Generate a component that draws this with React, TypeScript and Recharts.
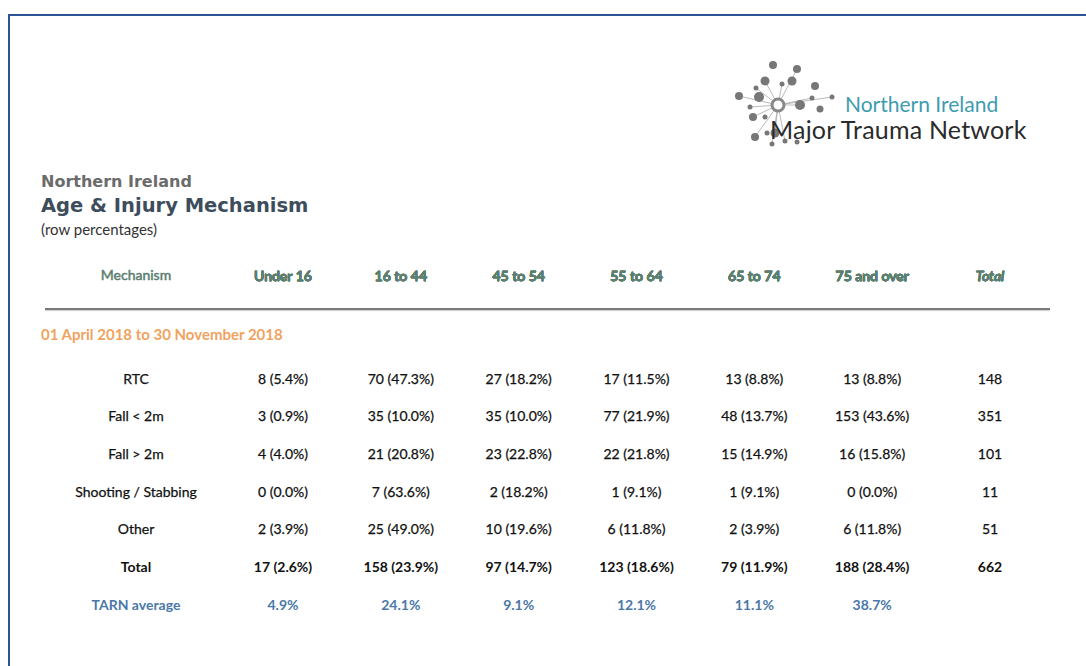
import React from 'react';
import { ScatterChart, Scatter, XAxis, YAxis } from 'recharts';

// table content
const ageGroups = ['Under 16', '16 to 44', '45 to 54', '55 to 64', '65 to 74', '75 and over'];
const mechanisms = ['RTC', 'Fall < 2m', 'Fall > 2m', 'Shooting / Stabbing', 'Other'];

const rtcCounts = [8, 70, 27, 17, 13, 13];
const rtcPct = [5.4, 47.3, 18.2, 11.5, 8.8, 8.8];
const fallUnderCounts = [3, 35, 35, 77, 48, 153];
const fallUnderPct = [0.9, 10.0, 10.0, 21.9, 13.7, 43.6];
const fallOverCounts = [4, 21, 23, 22, 15, 16];
const fallOverPct = [4.0, 20.8, 22.8, 21.8, 14.9, 15.8];
const shootingCounts = [0, 7, 2, 1, 1, 0];
const shootingPct = [0.0, 63.6, 18.2, 9.1, 9.1, 0.0];
const otherCounts = [2, 25, 10, 6, 2, 6];
const otherPct = [3.9, 49.0, 19.6, 11.8, 3.9, 11.8];
const rowTotals = [148, 351, 101, 11, 51];

const totalCounts = [17, 158, 97, 123, 79, 188];
const totalPct = [2.6, 23.9, 14.7, 18.6, 11.9, 28.4];
const grandTotal = 662;
const tarnAverage = [4.9, 24.1, 9.1, 12.1, 11.1, 38.7];

const mechCounts = [rtcCounts, fallUnderCounts, fallOverCounts, shootingCounts, otherCounts];
const mechPct = [rtcPct, fallUnderPct, fallOverPct, shootingPct, otherPct];

const cellLabel = (n: number, p: number) => `${n} (${p.toFixed(1)}%)`;

const bodyCells = mechanisms.flatMap((m, i) => [
  ...ageGroups.map((a, j) => ({ col: a, row: m, label: cellLabel(mechCounts[i][j], mechPct[i][j]) })),
  { col: 'Total', row: m, label: String(rowTotals[i]) },
]);
const totalCells = [
  ...ageGroups.map((a, j) => ({ col: a, row: 'Total', label: cellLabel(totalCounts[j], totalPct[j]) })),
  { col: 'Total', row: 'Total', label: String(grandTotal) },
];
const tarnCells = ageGroups.map((a, j) => ({ col: a, row: 'TARN average', label: `${tarnAverage[j].toFixed(1)}%` }));

// logo dots [x, y, r]
const logoDots = [
  [53, 15, 4], [77, 19, 4], [45, 31, 4.5], [72, 31, 4.5], [36, 38, 2.5], [62, 34, 2.5],
  [95, 36, 4], [112, 47, 2.5], [19, 46, 4], [39, 47, 5], [80, 55, 5], [92, 48, 2.5],
  [100, 59, 3.5], [30, 57, 2.5], [33, 67, 4], [45, 67, 2.5], [55, 83, 4.5], [35, 87, 4],
  [47, 83, 2.5], [52, 94, 2.5], [65, 91, 2.5], [77, 92, 2.5],
];
const hub = [58, 55];

const FONT = 'Lato, "Open Sans", sans-serif';
const TITLE_FONT = '"DejaVu Sans", Verdana, sans-serif';
const FS = 14;
const HEADER_Y = 275;
const MECH_X = 136;
const HEADER_COLOR = '#5b8070';
const TEXT_COLOR = '#111';
const TARN_COLOR = '#4a78a8';

const makeShape = (color: string, weight: number) => (props: any) => (
  <text
    x={props.cx}
    y={props.cy}
    textAnchor="middle"
    dominantBaseline="central"
    fontFamily={FONT}
    fontSize={FS}
    fontWeight={weight}
    fill={color}
    stroke={weight < 700 ? color : 'none'}
    strokeWidth={0.25}
  >
    {props.payload.label}
  </text>
);

const HeaderTick = (props: any) => (
  <text
    x={props.x}
    y={HEADER_Y}
    textAnchor="middle"
    dominantBaseline="central"
    fontFamily={FONT}
    fontSize={FS}
    fontWeight={400}
    fontStyle={props.payload.value === 'Total' ? 'italic' : 'normal'}
    fill={HEADER_COLOR}
    stroke={HEADER_COLOR}
    strokeWidth={0.5}
  >
    {props.payload.value}
  </text>
);

const RowTick = (props: any) => {
  const v = props.payload.value;
  const isTarn = v === 'TARN average';
  const bold = v === 'Total' || isTarn;
  const color = isTarn ? TARN_COLOR : TEXT_COLOR;
  return (
    <text
      x={MECH_X}
      y={props.y}
      textAnchor="middle"
      dominantBaseline="central"
      fontFamily={FONT}
      fontSize={FS}
      fontWeight={bold ? 700 : 400}
      fill={color}
      stroke={bold ? 'none' : color}
      strokeWidth={0.25}
    >
      {v}
    </text>
  );
};

export default function App() {
  return (
    <div style={{ position: 'relative', width: 1086, height: 666, background: '#fff', overflow: 'hidden' }}>
      <style>{'body{margin:0}'}</style>
      <div
        style={{
          position: 'absolute', left: 8, top: 14, right: -4, bottom: -4,
          borderTop: '2px solid #2f5496', borderLeft: '2px solid #2f5496',
        }}
      />

      <svg style={{ position: 'absolute', left: 720, top: 50 }} width={130} height={100}>
        {logoDots.map(([x, y], i) => (
          <line key={'l' + i} x1={hub[0]} y1={hub[1]} x2={x} y2={y} stroke="#aaa" strokeWidth={1} opacity={i % 3 === 0 ? 0 : 0.8} />
        ))}
        {logoDots.map(([x, y, r], i) => (
          <circle key={i} cx={x} cy={y} r={r} fill="#777" />
        ))}
        <circle cx={hub[0]} cy={hub[1]} r={6} fill="#fff" stroke="#888" strokeWidth={3} />
      </svg>
      <div style={{ position: 'absolute', left: 845, top: 94, fontFamily: FONT, fontSize: 21, color: '#3d9cb0', lineHeight: '20px' }}>
        Northern Ireland
      </div>
      <div style={{ position: 'absolute', left: 770, top: 117, fontFamily: FONT, fontSize: 25, color: '#2b2b2b', lineHeight: '24px', letterSpacing: 0.2 }}>
        Major Trauma Network
      </div>

      <div style={{ position: 'absolute', left: 41, top: 172, fontFamily: TITLE_FONT, fontWeight: 700, fontSize: 16, color: '#6b6b6b', lineHeight: '20px' }}>
        Northern Ireland
      </div>
      <div style={{ position: 'absolute', left: 41, top: 193, fontFamily: TITLE_FONT, fontWeight: 700, fontSize: 19.5, color: '#3d4d5c', lineHeight: '26px' }}>
        Age &amp; Injury Mechanism
      </div>
      <div style={{ position: 'absolute', left: 41, top: 220, fontFamily: FONT, fontSize: 15, color: '#333', lineHeight: '18px' }}>
        (row percentages)
      </div>

      <div
        style={{
          position: 'absolute', left: MECH_X - 60, width: 120, top: HEADER_Y - 10, textAlign: 'center',
          fontFamily: FONT, fontSize: FS, fontWeight: 400, color: HEADER_COLOR, lineHeight: '20px',
          WebkitTextStroke: `0.5px ${HEADER_COLOR}`,
        }}
      >
        Mechanism
      </div>
      <div style={{ position: 'absolute', left: 45, top: 308, width: 1005, height: 2, background: '#7a7a7a', boxShadow: '0 1px 1px #ccc' }} />
      <div style={{ position: 'absolute', left: 41, top: 324, fontFamily: FONT, fontSize: 15, fontWeight: 700, color: '#f0a35e', lineHeight: '20px' }}>
        01 April 2018 to 30 November 2018
      </div>

      <div style={{ position: 'absolute', left: 0, top: 0 }}>
        <ScatterChart width={1086} height={666} margin={{ top: 348, right: 96, bottom: 62, left: 83 }}>
          <XAxis
            dataKey="col"
            type="category"
            scale="point"
            orientation="top"
            allowDuplicatedCategory={false}
            height={30}
            axisLine={false}
            tickLine={false}
            tick={<HeaderTick />}
            interval={0}
          />
          <YAxis
            dataKey="row"
            type="category"
            scale="point"
            allowDuplicatedCategory={false}
            width={200}
            axisLine={false}
            tickLine={false}
            tick={<RowTick />}
            interval={0}
            reversed
          />
          <Scatter data={bodyCells} shape={makeShape(TEXT_COLOR, 400)} isAnimationActive={false} />
          <Scatter data={totalCells} shape={makeShape(TEXT_COLOR, 700)} isAnimationActive={false} />
          <Scatter data={tarnCells} shape={makeShape(TARN_COLOR, 700)} isAnimationActive={false} />
        </ScatterChart>
      </div>
    </div>
  );
}
